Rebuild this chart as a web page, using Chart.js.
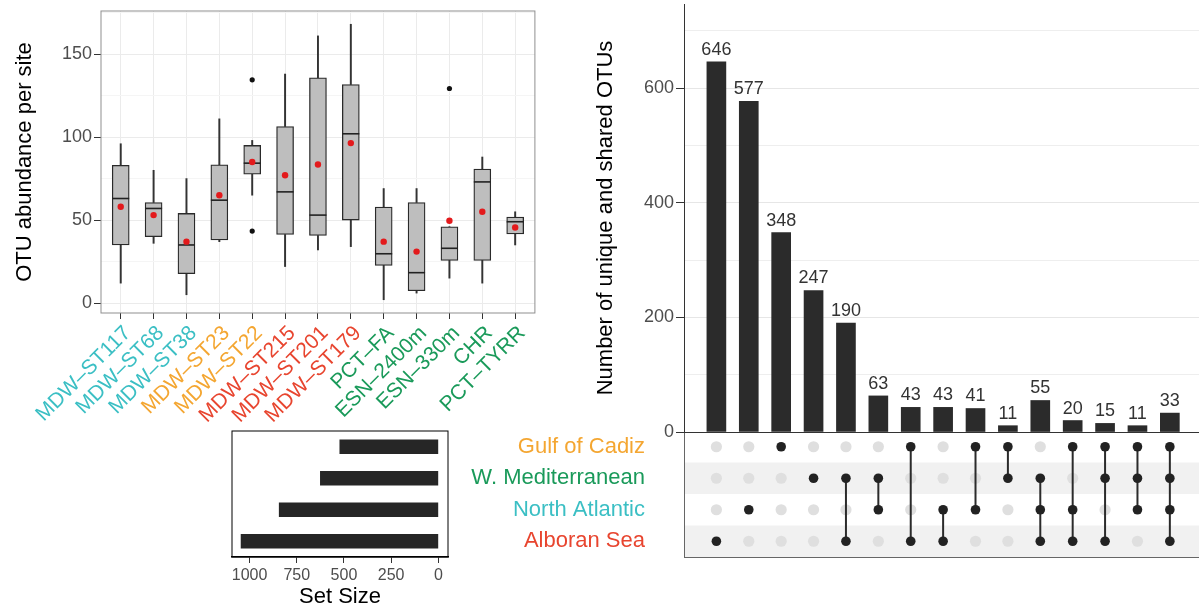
<!DOCTYPE html>
<html>
<head>
<meta charset="utf-8">
<script src="https://cdn.jsdelivr.net/npm/chart.js@4.4.1/dist/chart.umd.min.js"></script>
<style>
  body { margin: 0; width: 1199px; height: 610px; background: #fff; position: relative; overflow: hidden; }
  .panel { position: absolute; }
</style>
</head>
<body>
<div class="panel" style="left:0;top:0;width:545px;height:425px"><canvas id="boxChart"></canvas></div>
<div class="panel" style="left:455px;top:425px;width:744px;height:140px"><canvas id="matrixChart"></canvas></div>
<div class="panel" style="left:590px;top:0;width:609px;height:445px"><canvas id="upsetChart"></canvas></div>
<div class="panel" style="left:200px;top:425px;width:260px;height:185px"><canvas id="setSizeChart"></canvas></div>
<script>
// Boxplot data
const sites = ['MDW–ST117', 'MDW–ST68', 'MDW–ST38', 'MDW–ST23', 'MDW–ST22', 'MDW–ST215', 'MDW–ST201',
    'MDW–ST179', 'PCT–FA', 'ESN–2400m', 'ESN–330m', 'CHR', 'PCT–TYRR'];
const siteRegion = ['N', 'N', 'N', 'G', 'G', 'A', 'A', 'A', 'W', 'W', 'W', 'W', 'W'];
const whiskerLow = [12, 36, 5, 37, 65, 22, 32, 34, 2, 6, 15, 12, 35];
const q1 = [35, 40, 17.7, 38, 77.7, 41.3, 40.7, 50, 22.7, 7.4, 25.7, 25.7, 41.6];
const median = [63, 57, 35, 62, 84.3, 67, 53, 102, 29.7, 18.3, 33, 73, 49];
const q3 = [83, 60.6, 54, 83.3, 95, 106.4, 135.7, 131.7, 57.8, 60.6, 46, 80.7, 51.8];
const whiskerHigh = [96, 80, 75, 111, 98, 138, 161, 168, 69, 69, 46, 88, 55];
const meanVal = [58, 53, 37, 65, 85, 77, 83.5, 96.4, 37, 31, 49.6, 55, 45.5];
const outliers = [[], [], [], [], [134.5, 43.4], [], [], [], [], [], [129.3], [], []];
const boxTicks = [0, 50, 100, 150];

// UpSet data
const intersectSize = [646, 577, 348, 247, 190, 63, 43, 43, 41, 11, 55, 20, 15, 11, 33];
const upsetTicks = [0, 200, 400, 600];
const setNames = ['Gulf of Cadiz', 'W. Mediterranean', 'North Atlantic', 'Alboran Sea'];
const setSize = [522, 625, 843, 1045];
const setSizeTicks = [0, 250, 500, 750, 1000];
const inGulf = [0, 0, 1, 0, 0, 0, 1, 0, 1, 1, 0, 1, 1, 1, 1];
const inWMed = [0, 0, 0, 1, 1, 1, 0, 0, 0, 1, 1, 0, 1, 1, 1];
const inNAtl = [0, 1, 0, 0, 0, 1, 0, 1, 1, 0, 1, 1, 0, 1, 1];
const inAlb = [1, 0, 0, 0, 1, 0, 1, 1, 0, 0, 1, 1, 1, 0, 1];

const regionColor = { G: '#f4a631', W: '#1a9a5a', N: '#3bbfc4', A: '#e8452f' };
const setColors = [regionColor.G, regionColor.W, regionColor.N, regionColor.A];

Chart.defaults.font.family = '"Liberation Sans", Arial, Helvetica, sans-serif';
Chart.defaults.animation = false;
Chart.defaults.plugins.legend.display = false;
Chart.defaults.plugins.tooltip.enabled = false;

// draws a rectangle round the plot area
const panelBorder = {
    id: 'panelBorder',
    afterDraw(chart, args, opts) {
        const { ctx, chartArea: a } = chart;
        ctx.save();
        ctx.strokeStyle = opts.color;
        ctx.lineWidth = opts.width;
        ctx.strokeRect(a.left, a.top, a.right - a.left, a.bottom - a.top);
        ctx.restore();
    }
};

// fixed axis sizes, no extra room kept for half labels
const fixWidth = w => s => { s.width = w; s.paddingTop = 0; s.paddingBottom = 0; };
const fixHeight = h => s => { s.height = h; s.paddingLeft = 0; s.paddingRight = 0; };

// ---------- Boxplot ----------
const xy = (vals) => vals.map((v, i) => ({ x: i + 1, y: v }));
const outlierPoints = [];
outliers.forEach((list, i) => list.forEach(v => outlierPoints.push({ x: i + 1, y: v })));

new Chart(document.getElementById('boxChart'), {
    type: 'bar',
    data: {
        datasets: [
            { type: 'scatter', data: xy(meanVal), backgroundColor: '#e31a1c', borderWidth: 0, pointRadius: 3.2, order: 0 },
            { type: 'scatter', data: outlierPoints, backgroundColor: '#111', borderWidth: 0, pointRadius: 2.6, order: 1 },
            { type: 'scatter', data: xy(median), pointStyle: 'line', pointRadius: 8.5, borderColor: '#222', borderWidth: 1.6, order: 2 },
            { data: sites.map((s, i) => ({ x: i + 1, y: [q1[i], q3[i]] })), backgroundColor: '#bebebe',
              borderColor: '#2a2a2a', borderWidth: 1.3, borderSkipped: false, barThickness: 17, grouped: false, order: 3 },
            { data: sites.map((s, i) => ({ x: i + 1, y: [whiskerLow[i], q1[i]] })), backgroundColor: '#333',
              barThickness: 1.3, grouped: false, order: 4 },
            { data: sites.map((s, i) => ({ x: i + 1, y: [q3[i], whiskerHigh[i]] })), backgroundColor: '#333',
              barThickness: 1.3, grouped: false, order: 5 }
        ]
    },
    options: {
        responsive: true,
        maintainAspectRatio: false,
        layout: { padding: { left: 0, top: 11, right: 10, bottom: 0 } },
        plugins: { panelBorder: { color: '#8f8f8f', width: 1 } },
        scales: {
            x: {
                type: 'linear', min: 0.4, max: 13.6, offset: false,
                afterBuildTicks: s => { s.ticks = sites.map((n, i) => ({ value: i + 1 })); },
                afterFit: s => { s.height = 112; },
                grid: { offset: false, color: '#ebebeb', tickColor: '#333', tickLength: 6 },
                border: { display: false },
                ticks: {
                    autoSkip: false, maxRotation: 45, minRotation: 45, padding: 2, labelOffset: 7,
                    font: { size: 21 },
                    color: c => regionColor[siteRegion[c.index]],
                    callback: (v, i) => sites[i]
                }
            },
            y: {
                min: -6, max: 176,
                afterBuildTicks: s => { s.ticks = [0, 25, 50, 75, 100, 125, 150, 175].map(v => ({ value: v })); },
                afterFit: fixWidth(101),
                grid: {
                    color: c => boxTicks.includes(c.tick.value) ? '#ebebeb' : '#f5f5f5',
                    tickColor: c => boxTicks.includes(c.tick.value) ? '#333' : 'rgba(0,0,0,0)',
                    tickLength: 7
                },
                border: { display: false },
                ticks: {
                    callback: v => boxTicks.includes(v) ? v : '',
                    font: { size: 18 }, color: '#4d4d4d', padding: 2
                },
                title: { display: true, text: 'OTU abundance per site', font: { size: 22 }, color: '#000', padding: { top: 12, bottom: 0 } }
            }
        }
    },
    plugins: [panelBorder]
});

// ---------- UpSet intersection bars ----------
const barLabels = {
    id: 'barLabels',
    afterDatasetsDraw(chart) {
        const { ctx } = chart;
        const meta = chart.getDatasetMeta(0);
        ctx.save();
        ctx.font = '18px "Liberation Sans", Arial, sans-serif';
        ctx.fillStyle = '#333';
        ctx.textAlign = 'center';
        ctx.textBaseline = 'bottom';
        meta.data.forEach((bar, i) => ctx.fillText(intersectSize[i], bar.x, bar.y - 3));
        ctx.restore();
    }
};

new Chart(document.getElementById('upsetChart'), {
    type: 'bar',
    data: {
        datasets: [{
            data: intersectSize.map((v, i) => ({ x: i + 1, y: v })),
            backgroundColor: '#2b2b2b',
            barThickness: 19
        }]
    },
    options: {
        responsive: true,
        maintainAspectRatio: false,
        layout: { padding: { left: 0, top: 4, right: 0, bottom: 0 } },
        scales: {
            x: {
                type: 'linear', min: 0, max: 15.9, offset: false,
                afterFit: fixHeight(13),
                grid: { display: false, offset: false },
                border: { display: true, color: '#333', width: 1 },
                ticks: { display: false }
            },
            y: {
                min: 0, max: 747,
                afterBuildTicks: s => { s.ticks = [0, 100, 200, 300, 400, 500, 600, 700].map(v => ({ value: v })); },
                afterFit: fixWidth(94),
                grid: {
                    color: c => upsetTicks.includes(c.tick.value) ? '#e6e6e6' : '#eeeeee',
                    tickColor: c => upsetTicks.includes(c.tick.value) ? '#333' : 'rgba(0,0,0,0)',
                    tickLength: 8
                },
                border: { display: true, color: '#333', width: 1 },
                ticks: {
                    callback: v => upsetTicks.includes(v) ? v : '',
                    font: { size: 18 }, color: '#4d4d4d', padding: 2
                },
                title: { display: true, text: 'Number of unique and shared OTUs', font: { size: 22 }, color: '#000', padding: { top: 3, bottom: 0 } }
            }
        }
    },
    plugins: [barLabels]
});

// ---------- UpSet membership matrix ----------
const memberRows = [inGulf, inWMed, inNAtl, inAlb];   // top to bottom
const rowValue = r => 4 - r;                           // y value of a row
const darkDots = [];
const greyDots = [];
const linkSets = [];
intersectSize.forEach((n, c) => {
    const ys = [];
    memberRows.forEach((row, r) => {
        const p = { x: c + 1, y: rowValue(r) };
        if (row[c]) { darkDots.push(p); ys.push(p.y); } else { greyDots.push(p); }
    });
    if (ys.length > 1) {
        linkSets.push({
            type: 'line',
            data: [{ x: c + 1, y: Math.min(...ys) }, { x: c + 1, y: Math.max(...ys) }],
            borderColor: '#2b2b2b', borderWidth: 2, pointRadius: 0, order: 1
        });
    }
});

const rowStripes = {
    id: 'rowStripes',
    beforeDraw(chart) {
        const { ctx, chartArea: a, scales } = chart;
        ctx.save();
        ctx.fillStyle = '#f1f1f1';
        [3, 1].forEach(v => {
            const top = scales.y.getPixelForValue(v + 0.5);
            const bottom = scales.y.getPixelForValue(v - 0.5);
            ctx.fillRect(a.left, top, a.right - a.left, bottom - top);
        });
        ctx.restore();
    }
};

new Chart(document.getElementById('matrixChart'), {
    type: 'scatter',
    data: {
        datasets: [
            { data: darkDots, backgroundColor: '#222', borderWidth: 0, pointRadius: 4.8, order: 0 },
            ...linkSets,
            { data: greyDots, backgroundColor: '#dfdfdf', borderWidth: 0, pointRadius: 5.6, order: 2 }
        ]
    },
    options: {
        responsive: true,
        maintainAspectRatio: false,
        layout: { autoPadding: false, padding: { left: 0, top: 6, right: 0, bottom: 0 } },
        scales: {
            x: {
                type: 'linear', min: 0, max: 15.9,
                afterFit: fixHeight(8),
                grid: { display: false },
                border: { display: true, color: '#666', width: 1 },
                ticks: { display: false }
            },
            y: {
                type: 'linear', min: 0.5, max: 4.5,
                afterBuildTicks: s => { s.ticks = [4, 3, 2, 1].map(v => ({ value: v })); },
                afterFit: fixWidth(229),
                grid: { display: false, drawTicks: false },
                border: { display: true, color: '#666', width: 1 },
                ticks: {
                    callback: v => setNames[4 - v],
                    color: c => setColors[4 - c.tick.value],
                    font: { size: 22 }, padding: 39
                }
            }
        }
    },
    plugins: [rowStripes]
});

// ---------- Set size bars ----------
new Chart(document.getElementById('setSizeChart'), {
    type: 'bar',
    data: {
        labels: setNames,
        datasets: [{ data: setSize, backgroundColor: '#262626', barThickness: 14 }]
    },
    options: {
        indexAxis: 'y',
        responsive: true,
        maintainAspectRatio: false,
        layout: { padding: { left: 32, top: 6, right: 12, bottom: 0 } },
        plugins: { panelBorder: { color: '#000', width: 1 } },
        scales: {
            x: {
                type: 'linear', min: -51, max: 1093, reverse: true,
                afterBuildTicks: s => { s.ticks = setSizeTicks.map(v => ({ value: v })); },
                afterFit: s => { s.height = 53; },
                grid: { drawOnChartArea: false, tickColor: '#333', tickLength: 6 },
                border: { display: true, color: '#000', width: 1.5 },
                ticks: { font: { size: 16 }, color: '#4d4d4d', padding: 3, callback: v => String(v) },
                title: { display: true, text: 'Set Size', font: { size: 22 }, color: '#000', padding: { top: 0, bottom: 0 } }
            },
            y: { display: false }
        }
    },
    plugins: [panelBorder]
});
</script>
</body>
</html>
